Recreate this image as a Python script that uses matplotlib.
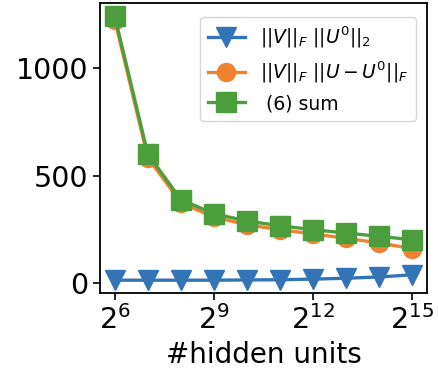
import numpy as np
import matplotlib
matplotlib.use("Agg")
import matplotlib.pyplot as plt

# hidden units = 2^6 ... 2^15
hidden = [2**k for k in range(6, 16)]
init_term = [15, 15, 15, 15, 16, 17, 20, 24, 30, 40]
dist_term = [1225, 585, 375, 308, 273, 250, 230, 210, 188, 162]
sum_term = [1242, 602, 390, 324, 290, 268, 250, 234, 219, 203]

fig = plt.figure(figsize=(4.38, 3.82), dpi=100)
ax = fig.add_axes([0.228, 0.232, 0.747, 0.760])

ax.plot(hidden, init_term, '-v', color='#3274b5', lw=2.4, ms=15,
        label=r'$||V||_F\ ||U^0||_2$')
ax.plot(hidden, dist_term, '-o', color='#f0812e', lw=2.4, ms=13,
        label=r'$||V||_F\ ||U-U^0||_F$')
ax.plot(hidden, sum_term, '-s', color='#4c9e3c', lw=2.4, ms=14,
        label=' (6) sum')

ax.set_xscale('log', base=2)
ax.set_xticks([2**6, 2**9, 2**12, 2**15])
ax.minorticks_off()
ax.set_yticks([0, 500, 1000])
ax.tick_params(labelsize=20.5, width=1.2, length=5)
ax.set_xlabel('#hidden units', fontsize=20)
for s in ax.spines.values():
    s.set_linewidth(1.3)

ax.legend(loc='upper right', fontsize=13.5, bbox_to_anchor=(0.995, 0.985))

fig.savefig('out.png', dpi=100)
